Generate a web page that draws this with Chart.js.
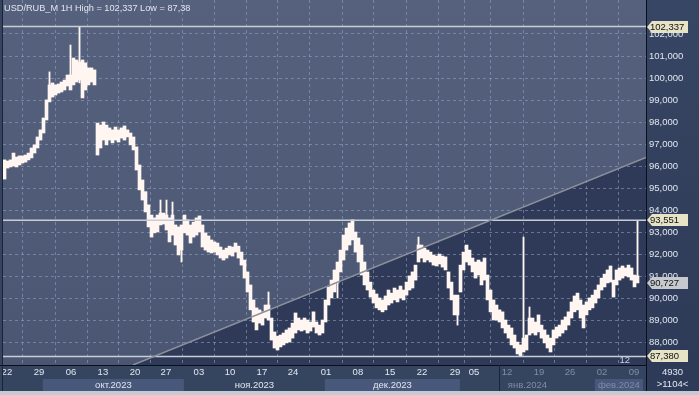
<!DOCTYPE html>
<html>
<head>
<meta charset="utf-8">
<script src="https://cdn.jsdelivr.net/npm/chart.js@4.4.1/dist/chart.umd.min.js"></script>
<style>
  html, body { margin: 0; padding: 0; background: #35445f; }
  #wrap { width: 699px; height: 395px; }
</style>
</head>
<body>
<div id="wrap"><canvas id="chart"></canvas></div>
<script>
const title = "USD/RUB_M 1H High = 102,337 Low = 87,38";

// hourly bars, squeezed to one column per ~3 px of the original: high and low
const highs = [
  96.29, 96.24, 96.29, 96.60, 96.42, 96.47, 96.47, 96.51, 96.60, 96.83,
  96.97, 97.33, 97.65, 98.19, 99.01, 99.69, 99.78, 99.69, 99.73, 99.82,
  99.91, 100.14, 100.14, 100.91, 100.82, 100.73, 100.82, 100.69, 100.46, 100.46,
  100.37, 97.96, 97.87, 98.01, 97.87, 97.74, 97.65, 97.78, 97.65, 97.74,
  97.83, 97.65, 97.51, 97.33, 96.88, 96.06, 95.38, 94.85, 94.25, 93.79,
  93.66, 93.79, 93.88, 93.88, 93.79, 93.66, 93.79, 93.34, 93.25, 93.34,
  93.79, 93.57, 93.34, 93.47, 93.66, 93.75, 93.34, 92.98, 92.84, 92.66,
  92.57, 92.52, 92.34, 92.20, 92.29, 92.38, 92.34, 92.52, 92.38, 92.11,
  91.75, 91.21, 90.62, 89.94, 89.58, 89.49, 89.40, 89.71, 89.71, 89.12,
  88.49, 88.30, 88.35, 88.44, 88.58, 88.67, 88.89, 89.35, 89.12, 89.03,
  89.12, 89.03, 88.94, 89.40, 88.94, 88.80, 89.03, 89.94, 90.53, 90.84,
  91.30, 91.66, 92.20, 92.88, 93.20, 93.43, 93.57, 93.02, 92.75, 92.43,
  91.66, 91.21, 90.75, 90.39, 90.21, 90.03, 89.94, 90.12, 90.39, 90.25,
  90.48, 90.39, 90.57, 90.39, 90.75, 91.03, 91.21, 91.52, 92.43, 92.43,
  92.29, 92.20, 92.11, 91.98, 91.93, 92.02, 91.93, 91.89, 91.21, 90.75,
  90.16, 90.16, 91.52, 92.11, 92.43, 92.20, 91.84, 91.66, 91.75, 91.66,
  91.84, 91.07, 90.39, 89.94, 89.71, 89.49, 89.40, 89.03, 88.80, 88.67,
  88.35, 88.03, 87.90, 88.21, 88.35, 89.12, 89.12, 88.94, 89.26, 88.80,
  88.58, 88.35, 88.21, 88.58, 88.71, 88.80, 89.03, 89.17, 89.40, 89.85,
  90.12, 90.25, 89.94, 89.71, 89.85, 90.03, 90.16, 90.39, 90.62, 90.93,
  91.11, 91.30, 91.48, 90.84, 91.30, 91.39, 91.48, 91.39, 91.52, 91.39,
  91.07, 91.03
];
const lows = [
  95.42, 95.92, 95.97, 96.01, 95.97, 96.06, 96.15, 96.19, 96.29, 96.38,
  96.60, 96.83, 97.19, 97.51, 98.10, 98.92, 99.14, 99.23, 99.32, 99.37,
  99.46, 99.64, 99.46, 99.69, 99.82, 99.91, 99.10, 99.46, 99.69, 99.82,
  99.69, 96.51, 96.83, 97.19, 96.97, 97.19, 97.06, 97.19, 97.10, 97.28,
  97.19, 97.33, 96.97, 96.74, 95.83, 94.93, 94.47, 93.93, 93.25, 92.79,
  92.98, 93.02, 93.34, 93.38, 93.11, 92.57, 92.88, 92.43, 91.98, 92.20,
  92.98, 92.88, 92.52, 92.79, 92.88, 93.02, 92.34, 92.20, 92.11, 92.07,
  92.11, 91.98, 91.84, 91.75, 91.84, 91.98, 91.93, 92.11, 91.84, 91.52,
  90.93, 90.30, 89.49, 88.94, 88.58, 88.89, 88.80, 89.12, 89.03, 88.12,
  87.76, 87.67, 87.81, 87.90, 87.99, 88.03, 88.21, 88.44, 88.58, 88.53,
  88.58, 88.44, 88.53, 88.71, 88.44, 88.35, 88.44, 88.94, 89.71, 90.03,
  90.30, 90.71, 91.21, 91.75, 92.20, 92.43, 92.66, 92.11, 91.66, 91.07,
  90.62, 90.39, 90.07, 89.80, 89.58, 89.49, 89.40, 89.49, 89.71, 89.80,
  89.94, 89.85, 90.03, 89.94, 90.16, 90.39, 90.48, 90.84, 91.66, 91.84,
  91.66, 91.75, 91.66, 91.52, 91.48, 91.57, 91.43, 91.30, 90.48, 89.94,
  89.26, 89.26, 90.30, 91.30, 91.66, 91.52, 91.21, 90.93, 91.07, 90.62,
  90.84, 89.94, 89.40, 89.03, 89.03, 88.94, 88.67, 88.44, 88.21, 87.90,
  87.76, 87.49, 87.38, 87.58, 87.67, 88.35, 88.44, 88.35, 88.49, 88.21,
  87.99, 87.76, 87.58, 87.90, 88.21, 88.30, 88.44, 88.58, 88.80, 89.12,
  89.40, 89.49, 89.12, 88.67, 89.26, 89.49, 89.58, 89.80, 90.03, 90.39,
  90.53, 90.71, 90.75, 90.07, 90.62, 90.84, 90.93, 91.03, 90.98, 90.84,
  90.53, 90.71
];

// single-hour spikes (thin bars)
const spikeCols = [15, 22, 25, 52, 54, 56, 59, 88, 111, 138, 151, 173, 175, 211];
const spikeLows = [99.50, 100.00, 99.78, 93.60, 93.50, 93.30, 91.66, 89.50, 90.03, 92.00, 88.80, 87.90, 88.90, 90.90];
const spikeHighs = [100.28, 101.50, 102.337, 94.47, 94.47, 94.38, 92.60, 90.30, 90.90, 92.79, 89.60, 92.79, 89.62, 93.551];

const yTicks = [88, 89, 90, 91, 92, 93, 94, 95, 96, 97, 98, 99, 100, 101, 102];
const weekPos = [0.8, 11.5, 22.2, 32.8, 43.5, 53.8, 64.8, 75.2, 85.8, 96.2, 107.2,
  117.8, 128.5, 139.2, 150.2, 156.5, 167.5, 178.2, 188.5, 199.2, 209.8];
const weekLabels = ["22", "29", "06", "13", "20", "27", "03", "10", "17", "24", "01",
  "08", "15", "22", "29", "05", "12", "19", "26", "02", "09"];
const months = ["окт.2023", "ноя.2023", "дек.2023", "янв.2024", "фев.2024"];
const monthStart = [12.8, 59.8, 106.8, 151.8, 196.8];
const monthEnd = [59.8, 106.8, 151.8, 196.8, 212.8];

const levelValues = [102.337, 93.551, 87.38];
const markerValues = [102.337, 93.551, 90.727, 87.38];
const lastPrice = 90.727;
const trendX = [42.8, 213.83];
const trendY = [86.99, 96.4];
const sepIndex = 164.8;
const infoTop = "4930";
const infoBottom = ">1104<";
const barsLabel = "12";

const FONT = "'Liberation Sans', Arial, sans-serif";

function fmt(v) {
  return v.toFixed(3).replace(".", ",");
}

const paint = {
  id: "paint",
  beforeDraw(chart) {
    const { ctx, chartArea: a, scales: { x, y } } = chart;
    ctx.save();
    ctx.fillStyle = "#36455f";
    ctx.fillRect(0, 0, chart.width, chart.height);
    const rg = ctx.createLinearGradient(0, 0, 0, a.bottom);
    rg.addColorStop(0, "#374664");
    rg.addColorStop(1, "#2d3a58");
    ctx.fillStyle = rg;
    ctx.fillRect(a.right, 0, chart.width - a.right, chart.height);

    // plot background
    const g = ctx.createLinearGradient(0, a.top, 0, a.bottom);
    g.addColorStop(0, "#56627d");
    g.addColorStop(1, "#4a5672");
    ctx.fillStyle = g;
    ctx.fillRect(a.left, a.top, a.width, a.height);

    // darker region under the trend line
    ctx.save();
    ctx.beginPath();
    ctx.rect(a.left, a.top, a.width, a.height);
    ctx.clip();
    ctx.beginPath();
    ctx.moveTo(x.getPixelForValue(trendX[0]), y.getPixelForValue(trendY[0]));
    ctx.lineTo(x.getPixelForValue(trendX[1]), y.getPixelForValue(trendY[1]));
    ctx.lineTo(x.getPixelForValue(trendX[1]), a.bottom);
    ctx.lineTo(x.getPixelForValue(trendX[0]), a.bottom);
    ctx.closePath();
    ctx.fillStyle = "#2e3a58";
    ctx.fill();
    ctx.restore();

    // month bands
    const bandTop = a.bottom + 14, bandBottom = a.bottom + 26;
    months.forEach((m, i) => {
      const x0 = x.getPixelForValue(monthStart[i]);
      const x1 = Math.min(x.getPixelForValue(monthEnd[i]), a.right);
      if (i % 2 === 0) {
        ctx.fillStyle = "#48587a";
        ctx.fillRect(x0, bandTop, x1 - x0, bandBottom - bandTop);
      }
      ctx.fillStyle = monthStart[i] >= sepIndex - 15 ? "#7f8ca6" : "#e2e7f0";
      ctx.font = "9.5px " + FONT;
      ctx.textAlign = "center";
      ctx.textBaseline = "middle";
      ctx.fillText(m, (x0 + x1) / 2, (bandTop + bandBottom) / 2 + 0.5);
    });
    ctx.restore();
  },
  afterDraw(chart) {
    const { ctx, chartArea: a, scales: { x, y } } = chart;
    ctx.save();

    // frame lines
    ctx.strokeStyle = "#0b0f19";
    ctx.lineWidth = 1;
    ctx.beginPath();
    ctx.moveTo(a.right + 0.5, 0);
    ctx.lineTo(a.right + 0.5, chart.height);
    ctx.moveTo(0, a.bottom + 0.5);
    ctx.lineTo(a.right, a.bottom + 0.5);
    ctx.stroke();
    ctx.strokeStyle = "#1b2336";
    ctx.beginPath();
    ctx.moveTo(a.left - 0.5, 0);
    ctx.lineTo(a.left - 0.5, a.bottom + 26);
    const sx = Math.round(x.getPixelForValue(sepIndex)) + 0.5;
    ctx.moveTo(sx, a.bottom);
    ctx.lineTo(sx, a.bottom + 26);
    ctx.stroke();

    // bottom strip
    ctx.fillStyle = "#c4cbd5";
    ctx.fillRect(0, a.bottom + 26, chart.width, chart.height - a.bottom - 26);

    // title
    ctx.fillStyle = "#e2e6ee";
    ctx.font = "9.2px " + FONT;
    ctx.textAlign = "left";
    ctx.textBaseline = "middle";
    ctx.fillText(title, a.left + 1, 8);

    // bar counter
    ctx.fillStyle = "#c8d0e0";
    ctx.font = "9.5px " + FONT;
    ctx.textAlign = "right";
    ctx.fillText(barsLabel, a.right - 16, a.bottom - 5);

    // price markers on the right axis
    markerValues.forEach(v => {
      const py = Math.round(y.getPixelForValue(v));
      const x0 = a.right + 1, x1 = a.right + 42;
      ctx.beginPath();
      ctx.moveTo(x0, py);
      ctx.lineTo(x0 + 5, py - 6);
      ctx.lineTo(x1, py - 6);
      ctx.lineTo(x1, py + 6);
      ctx.lineTo(x0 + 5, py + 6);
      ctx.closePath();
      ctx.fillStyle = v === lastPrice ? "#c6cacf" : "#e6e3c6";
      ctx.fill();
      ctx.fillStyle = "#101010";
      ctx.font = "9.5px " + FONT;
      ctx.textAlign = "left";
      ctx.textBaseline = "middle";
      ctx.fillText(fmt(v), x0 + 3, py + 0.5);
    });

    // info box bottom right
    const cx = (a.right + chart.width) / 2;
    ctx.fillStyle = "#e2e7f0";
    ctx.font = "9.5px " + FONT;
    ctx.textAlign = "center";
    ctx.fillText(infoTop, cx, a.bottom + 7);
    ctx.fillText(infoBottom, cx, a.bottom + 19);
    ctx.restore();
  }
};

const priceData = highs.map((h, i) => ({ x: i, y: [lows[i], h] }));
const spikeData = spikeCols.map((c, i) => ({ x: c, y: [spikeLows[i], spikeHighs[i]] }));
const levelSets = levelValues.map(v => ({
  type: "line",
  data: [{ x: -0.5, y: v }, { x: 213.83, y: v }],
  borderColor: "#c9cdd6",
  borderWidth: 1.5,
  pointRadius: 0
}));

new Chart(document.getElementById("chart"), {
  type: "bar",
  data: {
    datasets: [
      {
        type: "line",
        data: trendX.map((t, i) => ({ x: t, y: trendY[i] })),
        borderColor: "#8b909c",
        borderWidth: 1.5,
        pointRadius: 0
      },
      ...levelSets,
      {
        data: priceData,
        backgroundColor: "#fff5f1",
        borderWidth: 0,
        categoryPercentage: 1,
        barPercentage: 1,
        grouped: false
      },
      {
        data: spikeData,
        backgroundColor: "#fff5f1",
        borderWidth: 0,
        barThickness: 1.2,
        grouped: false
      }
    ]
  },
  options: {
    responsive: true,
    maintainAspectRatio: false,
    animation: false,
    layout: { padding: { left: 3, right: 0, top: 0, bottom: 4 } },
    plugins: { legend: { display: false }, tooltip: { enabled: false } },
    scales: {
      x: {
        type: "linear",
        min: -0.5,
        max: 213.83,
        offset: false,
        afterBuildTicks: s => { s.ticks = weekPos.map(v => ({ value: v })); },
        afterFit: s => { s.height = 26; s.paddingLeft = 0; s.paddingRight = 0; },
        grid: { color: "rgba(150,166,200,0.55)", lineWidth: 1, drawTicks: false },
        border: { display: false, dash: [3, 3] },
        ticks: {
          autoSkip: false,
          maxRotation: 0,
          padding: 2,
          font: { family: FONT, size: 9.5 },
          color: c => (c.tick && c.tick.value > sepIndex ? "#7f8ca6" : "#e2e7f0"),
          callback: (v, i) => weekLabels[i]
        }
      },
      y: {
        position: "right",
        min: 86.99,
        max: 103.54,
        afterBuildTicks: s => { s.ticks = yTicks.map(v => ({ value: v })); },
        afterFit: s => { s.width = 53; s.paddingTop = 0; s.paddingBottom = 0; },
        grid: { color: "rgba(150,166,200,0.55)", lineWidth: 1, drawTicks: false },
        border: { display: false, dash: [3, 3] },
        ticks: {
          padding: 3,
          font: { family: FONT, size: 9.5 },
          color: "#e2e7f0",
          callback: v => fmt(v)
        }
      }
    }
  },
  plugins: [paint]
});
</script>
</body>
</html>
